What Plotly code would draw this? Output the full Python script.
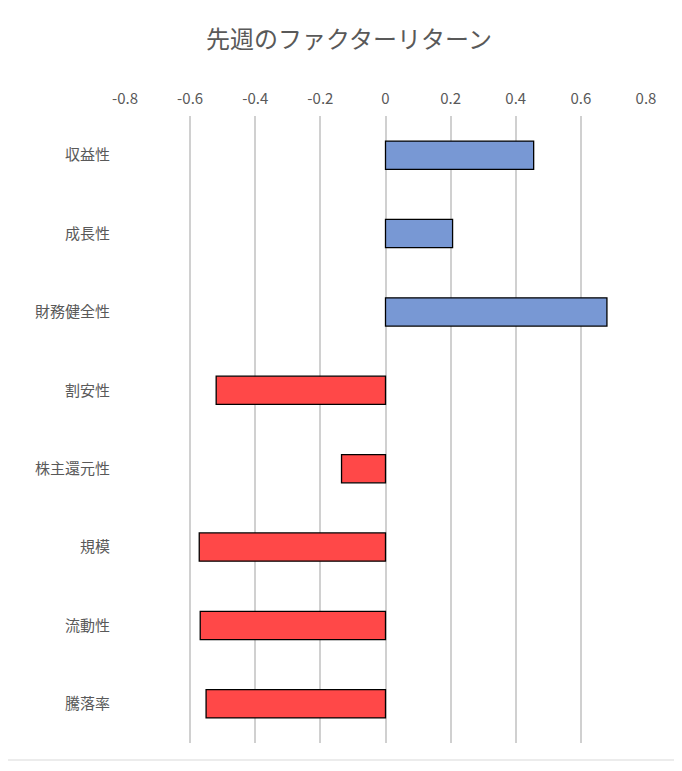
import plotly.graph_objects as go

factors = ["収益性", "成長性", "財務健全性", "割安性", "株主還元性", "規模", "流動性", "騰落率"]
returns = [0.455, 0.206, 0.68, -0.52, -0.135, -0.572, -0.569, -0.551]
tick_vals = [-0.8, -0.6, -0.4, -0.2, 0, 0.2, 0.4, 0.6, 0.8]
tick_text = ["-0.8", "-0.6", "-0.4", "-0.2", "0", "0.2", "0.4", "0.6", "0.8"]

BLUE = "rgb(120,152,212)"
RED = "rgb(255,72,72)"


def main():
    colors = [BLUE if v >= 0 else RED for v in returns]

    fig = go.Figure()
    fig.add_trace(go.Bar(x=returns, y=factors, orientation="h",
                         width=0.36,
                         marker=dict(color=colors, line=dict(color="black", width=1.3))))

    # the page puts the figure ~8px in from the corner, so margins are shifted
    fig.update_layout(
        title=dict(text="先週のファクターリターン", x=0.5, xanchor="center", y=0.97,
                   font=dict(size=24, color="#595959")),
        width=682, height=771,
        paper_bgcolor="white", plot_bgcolor="white",
        margin=dict(l=117, r=44, t=108, b=36),
        font=dict(family="Noto Sans CJK JP", color="#595959", size=15),
        showlegend=False,
        xaxis=dict(side="top", range=[-0.8, 0.8], tickvals=tick_vals, ticktext=tick_text,
                   showgrid=True, gridcolor="#d0d0d0", gridwidth=1.5,
                   zeroline=False, showline=False, ticks="", ticklabelstandoff=8),
        yaxis=dict(autorange="reversed", showgrid=False, zeroline=False, showline=False,
                   ticks="", ticklabelstandoff=14),
        shapes=[dict(type="rect", xref="paper", yref="paper", x0=-124/521, x1=1+31/521,
                     y0=-17/627, y1=1+115/627, line=dict(color="#d9d9d9", width=1))],
    )

    fig.write_html("out.html")


if __name__ == '__main__':
    main()
